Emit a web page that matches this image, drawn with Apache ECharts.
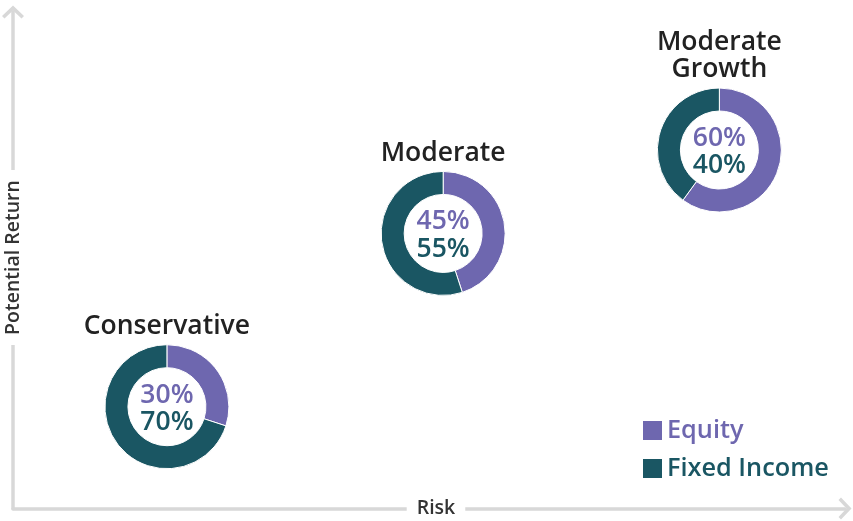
<!DOCTYPE html>
<html>
<head>
<meta charset="utf-8">
<script src="https://cdn.jsdelivr.net/npm/echarts@6/dist/echarts.min.js"></script>
<style>
    html, body { margin: 0; padding: 0; background: #fff; }
    #main { width: 853px; height: 521px; }
</style>
</head>
<body>
<div id="main"></div>
<script>
// 资产配置数据
var profiles = ['Conservative', 'Moderate', 'Moderate\nGrowth'];
var equity = [30, 45, 60];
var fixedIncome = [70, 55, 40];
// 在风险 / 回报坐标上的位置 (0 - 100)
var riskPos = [18.5, 51.7, 84.9];
var returnPos = [20.5, 55.4, 72.2];
var legendNames = ['Equity', 'Fixed Income'];

(function () {
    var FONT = '"Open Sans", "Noto Sans", sans-serif';
    var PURPLE = '#6e67af';
    var TEAL = '#1a5663';
    var AXIS = '#d8d8d8';
    var ARROW = 'path://M0,10.5 L11,0 L22,10.5 L19.5,13 L11,5 L2.5,13 Z';

    var myChart = echarts.init(document.getElementById('main'));

    var points = [];
    for (var i = 0; i < profiles.length; i++) {
        points.push({
            value: [riskPos[i], returnPos[i]],
            name: profiles[i],
            eq: equity[i],
            fi: fixedIncome[i]
        });
    }

    function nameStyle() {
        return {
            align: 'center',
            verticalAlign: 'middle',
            fontFamily: FONT,
            fontSize: 19.5,
            fontWeight: 600,
            color: '#333',
            backgroundColor: '#fff',
            padding: [3, 10]
        };
    }

    // 画线的轴
    function lineAxis(pos) {
        return {
            type: 'value',
            position: pos,
            min: 0,
            max: 100,
            z: 1,
            axisLine: {
                show: true,
                symbol: ['none', ARROW],
                symbolSize: [22, 13],
                lineStyle: { color: AXIS, width: 3.5 }
            },
            axisTick: { show: false },
            axisLabel: { show: false },
            splitLine: { show: false }
        };
    }

    // 只显示名称的轴 (盖在线上面)
    function nameAxis(pos, name, gap, rotate) {
        return {
            type: 'value',
            position: pos,
            min: 0,
            max: 100,
            z: 10,
            name: name,
            nameLocation: 'start',
            nameGap: gap,
            nameRotate: rotate,
            nameTextStyle: nameStyle(),
            axisLine: { show: false },
            axisTick: { show: false },
            axisLabel: { show: false },
            splitLine: { show: false }
        };
    }

    var option = {
        animation: false,
        color: [PURPLE, TEAL],
        textStyle: { fontFamily: FONT },
        grid: { left: 13, right: 8, top: 12, bottom: 12.5, outerBoundsMode: 'none', containLabel: false },
        xAxis: [
            lineAxis('bottom'),
            nameAxis('bottom', 'Risk', -423, 0)
        ],
        yAxis: [
            lineAxis('left'),
            nameAxis('left', 'Potential Return', -251, 90)
        ],
        legend: {
            data: [
                { name: legendNames[0], textStyle: { color: PURPLE } },
                { name: legendNames[1], textStyle: { color: TEAL } }
            ],
            orient: 'vertical',
            left: 638,
            top: 413,
            icon: 'rect',
            itemWidth: 19,
            itemHeight: 19,
            itemGap: 13,
            selectedMode: false,
            itemStyle: { borderWidth: 0 },
            textStyle: {
                fontFamily: FONT,
                fontSize: 25.3,
                fontWeight: 600,
                lineHeight: 19
            }
        },
        series: [
            {
                // 百分比
                type: 'scatter',
                z: 5,
                symbolSize: 1,
                itemStyle: { color: 'rgba(0,0,0,0)', opacity: 1 },
                data: points,
                label: {
                    show: true,
                    position: 'inside',
                    offset: [0, 2],
                    formatter: function (p) {
                        return '{e|' + p.data.eq + '%}\n{f|' + p.data.fi + '%}';
                    },
                    rich: {
                        e: { fontFamily: FONT, fontSize: 26.5, fontWeight: 600, color: PURPLE, lineHeight: 27.5 },
                        f: { fontFamily: FONT, fontSize: 26.5, fontWeight: 600, color: TEAL, lineHeight: 27.5 }
                    }
                },
                silent: true
            },
            {
                // 标题
                type: 'scatter',
                z: 5,
                symbolSize: 1,
                itemStyle: { color: 'rgba(0,0,0,0)', opacity: 1 },
                data: points,
                label: {
                    show: true,
                    position: 'top',
                    distance: 66,
                    align: 'center',
                    formatter: '{b}',
                    fontFamily: FONT,
                    fontSize: 26.5,
                    fontWeight: 600,
                    lineHeight: 27.5,
                    color: '#222'
                },
                silent: true
            }
        ]
    };

    myChart.setOption(option);

    // 饼图中心使用坐标轴换算
    for (var j = 0; j < profiles.length; j++) {
        var c = myChart.convertToPixel({ gridIndex: 0 }, [riskPos[j], returnPos[j]]);
        option.series.push({
            type: 'pie',
            name: profiles[j],
            center: c,
            radius: [39, 62],
            startAngle: 90,
            clockwise: true,
            silent: true,
            label: { show: false },
            labelLine: { show: false },
            itemStyle: { borderColor: '#fff', borderWidth: 1 },
            data: [
                { name: legendNames[0], value: equity[j] },
                { name: legendNames[1], value: fixedIncome[j] }
            ]
        });
    }

    myChart.setOption(option);

    window.addEventListener('resize', function () {
        myChart.resize();
    });
})();
</script>
</body>
</html>
